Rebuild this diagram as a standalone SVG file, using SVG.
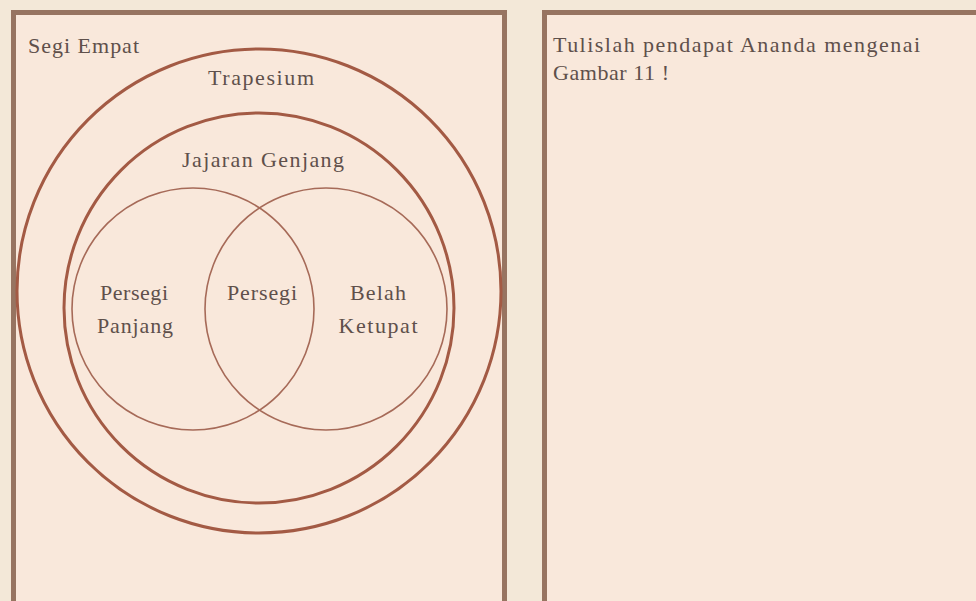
<svg xmlns="http://www.w3.org/2000/svg" width="976" height="601" viewBox="0 0 976 601">
<style>
.panel{fill:#f9e8db;stroke:#977461;stroke-width:5}
.big{fill:none;stroke:#a35a44;stroke-width:3}
.small{fill:none;stroke:#a66a58;stroke-width:1.6}
text{font-family:"Liberation Serif","DejaVu Serif",serif;font-size:22px;fill:#5f504b}
.c{text-anchor:middle}
</style>
<rect x="0" y="0" width="976" height="601" fill="#f3e8d8"/>
<g id="panel-left"><rect class="panel" x="13.5" y="12.5" width="491" height="620"/></g>
<g id="panel-right"><rect class="panel" x="544.5" y="12.5" width="460" height="620"/></g>
<g id="connectors"></g>
<g id="trapesium"><circle class="big" cx="259" cy="291" r="242"/></g>
<g id="jajaran-genjang"><circle class="big" cx="259" cy="308" r="195"/></g>
<g id="persegi-panjang"><circle class="small" cx="193" cy="309" r="121"/></g>
<g id="belah-ketupat"><circle class="small" cx="326" cy="309" r="121"/></g>
<g id="labels">
<text x="28" y="53" textLength="111" lengthAdjust="spacing">Segi Empat</text>
<text class="c" x="261" y="85" textLength="106" lengthAdjust="spacing">Trapesium</text>
<text class="c" x="263" y="167" textLength="162" lengthAdjust="spacing">Jajaran Genjang</text>
<text class="c" x="134" y="300" textLength="68" lengthAdjust="spacing">Persegi</text>
<text class="c" x="135" y="333" textLength="76" lengthAdjust="spacing">Panjang</text>
<text class="c" x="262" y="300" textLength="70" lengthAdjust="spacing">Persegi</text>
<text class="c" x="378" y="300" textLength="56" lengthAdjust="spacing">Belah</text>
<text class="c" x="378" y="333" textLength="79" lengthAdjust="spacing">Ketupat</text>
<text x="553" y="52" textLength="367" lengthAdjust="spacing">Tulislah pendapat Ananda mengenai</text>
<text x="553" y="80" textLength="116" lengthAdjust="spacing">Gambar 11 !</text>
</g>
</svg>
